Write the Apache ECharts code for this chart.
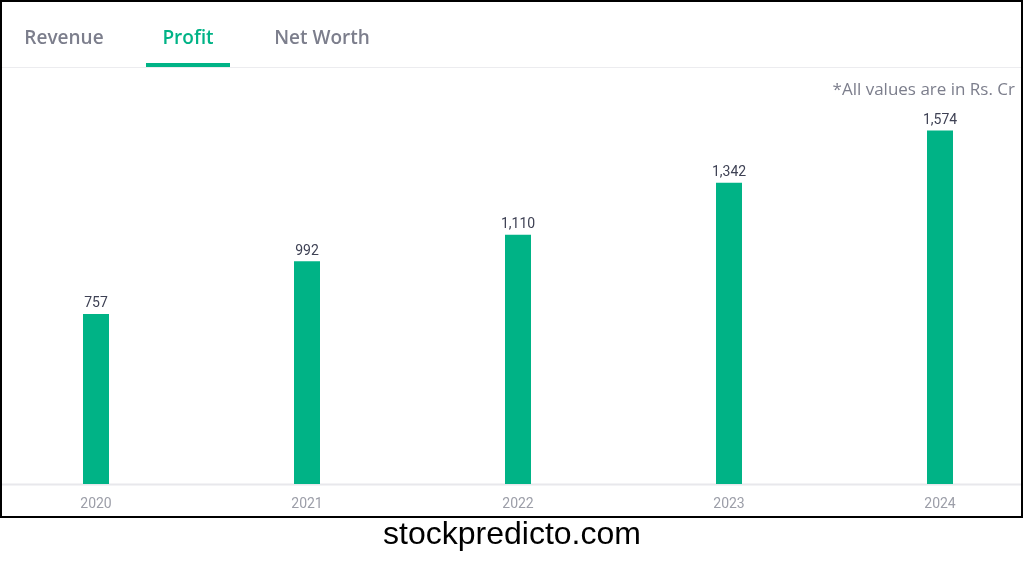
<!DOCTYPE html>
<html>
<head>
<meta charset="utf-8">
<script src="https://cdn.jsdelivr.net/npm/echarts@6/dist/echarts.min.js"></script>
<style>
html,body{margin:0;padding:0;background:#fff;}
#chart{width:1024px;height:576px;}
</style>
</head>
<body>
<div id="chart"></div>
<script>
const years = ['2020', '2021', '2022', '2023', '2024'];
const profit = [757, 992, 1110, 1342, 1574];
const tabs = ['Revenue', 'Profit', 'Net Worth'];
const note = '*All values are in Rs. Cr';
const watermark = 'stockpredicto.com';

const green = '#00b386';
const chart = echarts.init(document.getElementById('chart'));
chart.setOption({
  animation: false,
  backgroundColor: '#fff',
  grid: { left: -9.5, width: 1055, top: 91, height: 393, containLabel: false, outerBoundsMode: 'none' },
  xAxis: {
    type: 'category',
    data: years,
    axisLine: { show: false },
    axisTick: { show: false },
    axisLabel: { color: '#9c9ea8', fontSize: 14, fontFamily: 'Roboto', margin: 13 }
  },
  yAxis: { type: 'value', min: 0, max: 1750, show: false, splitLine: { show: false } },
  series: [{
    type: 'bar',
    data: profit,
    barWidth: 26,
    itemStyle: { color: green },
    label: {
      show: true,
      position: 'top',
      distance: 3,
      color: '#3e4154',
      fontSize: 14,
      fontFamily: 'Roboto',
      formatter: p => p.value.toLocaleString('en-US')
    }
  }],
  graphic: [
    { type: 'line', shape: { x1: 1, y1: 484.5, x2: 1021, y2: 484.5 }, style: { stroke: '#e8e8ec', lineWidth: 2 } },
    { type: 'line', shape: { x1: 1, y1: 67.5, x2: 1021, y2: 67.5 }, style: { stroke: '#ececef', lineWidth: 1 } },
    { type: 'rect', shape: { x: 146, y: 63, width: 84, height: 4 }, style: { fill: green } },
    { type: 'text', x: 64, y: 39, style: { text: tabs[0], fill: '#7c7e8c', font: '600 19px "Open Sans"', textAlign: 'center', textVerticalAlign: 'middle' } },
    { type: 'text', x: 188, y: 39, style: { text: tabs[1], fill: green, font: '600 19px "Open Sans"', textAlign: 'center', textVerticalAlign: 'middle' } },
    { type: 'text', x: 322, y: 39, style: { text: tabs[2], fill: '#7c7e8c', font: '600 19px "Open Sans"', textAlign: 'center', textVerticalAlign: 'middle' } },
    { type: 'text', x: 1015, y: 90, style: { text: note, fill: '#7c7e8c', font: '17px "Open Sans"', textAlign: 'right', textVerticalAlign: 'middle' } },
    { type: 'rect', shape: { x: 1, y: 1, width: 1021, height: 516 }, style: { fill: 'none', stroke: '#000', lineWidth: 2 } },
    { type: 'text', x: 512, y: 535, style: { text: watermark, fill: '#000', font: '32px "Liberation Sans"', textAlign: 'center', textVerticalAlign: 'middle' } }
  ]
});
</script>
</body>
</html>
